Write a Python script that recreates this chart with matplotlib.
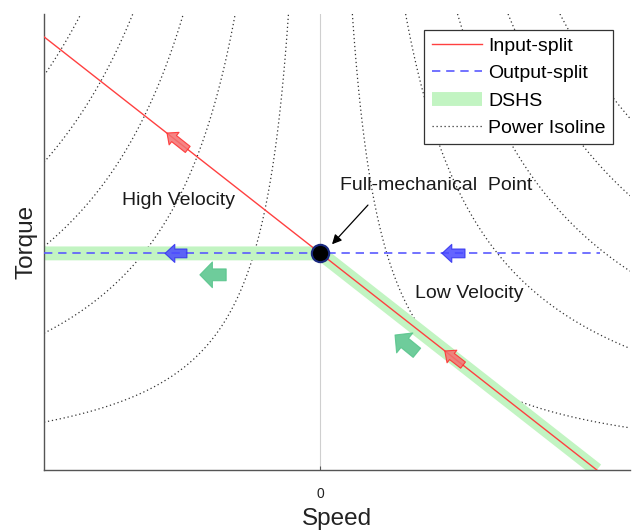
import numpy as np
import matplotlib
matplotlib.use('Agg')
import matplotlib.pyplot as plt
from matplotlib.lines import Line2D
from matplotlib.patches import FancyArrowPatch

plt.rcParams['font.family'] = ['Liberation Sans', 'DejaVu Sans']

###############################
# Data

# input-split line: speed -> torque
input_speed = [-1.0, 1.0]
input_torque = [0.95, 0.0]

# output-split line (constant torque)
output_speed = [-1.0, 1.01]
output_torque = [0.475, 0.475]

# DSHS path: horizontal on the left, then follows input-split
dshs_speed = [-1.0, 0.0, 1.0]
dshs_torque = [0.475, 0.475, 0.0]

# full-mechanical point
fm_speed = 0.0
fm_torque = 0.475

# power isoline levels, |speed| * (torque - torque_origin)
power_levels = [0.117, 0.312, 0.502, 0.687, 0.877]
torque_origin = -0.012

# direction arrows: (tail, head) in data coords
red_arrows = [((-0.48, 0.703), (-0.555, 0.739)),
              ((0.516, 0.230), (0.450, 0.261))]
blue_arrows = [((-0.483, 0.475), (-0.562, 0.475)),
               ((0.523, 0.475), (0.440, 0.475))]
green_arrows = [((-0.341, 0.428), (-0.436, 0.428)),
                ((0.349, 0.257), (0.270, 0.296))]

###############################

fig = plt.figure(figsize=(6.33, 5.32), dpi=100)
ax = fig.add_axes([44 / 633, 62 / 532, 586 / 633, 456 / 532])

ax.set_xlim(-1.0, 1.12)
ax.set_ylim(0.0, 1.0)

# isolines through contour of |w| * T
W, T = np.meshgrid(np.linspace(-1.0, 1.12, 700), np.linspace(0.0, 1.0, 500))
cs = ax.contour(W, T, np.abs(W) * (T - torque_origin), levels=power_levels,
                colors='#333333', linewidths=0.9, zorder=1)
cs.set_linestyle((0, (1, 2.2)))

# zero speed line
ax.axvline(0, color='#cfcfcf', lw=0.8, zorder=0)

ax.plot(dshs_speed, dshs_torque, color='#c2f4c2', lw=10, solid_capstyle='butt',
        solid_joinstyle='miter', zorder=2, label='DSHS')
ax.plot(output_speed, output_torque, color='#5a5aff', lw=1.2, ls=(0, (5, 3.5)),
        zorder=3, label='Output-split')
ax.plot(input_speed, input_torque, color='#ff4040', lw=1.0, zorder=4, label='Input-split')

ax.plot([fm_speed], [fm_torque], 'o', color='black', ms=12.5, mec='#1a2a80', mew=1.5, zorder=6)


def add_arrows(arrows, face, edge, tail_w, head_w, head_l):
    for tail, head in arrows:
        p = FancyArrowPatch(tail, head, shrinkA=0, shrinkB=0, mutation_scale=1,
                            arrowstyle=f'simple,head_length={head_l},head_width={head_w},tail_width={tail_w}',
                            facecolor=face, edgecolor=edge, lw=0.8, alpha=0.85, zorder=5)
        ax.add_patch(p)


add_arrows(red_arrows, '#f47070', '#ff2a2a', 5.6, 11.5, 6.5)
add_arrows(blue_arrows, '#4a4aff', '#3030ee', 6.3, 13.0, 7.0)
add_arrows(green_arrows, '#55c48a', '#55c48a', 8.5, 18.5, 9.0)

# texts
txt = dict(fontsize=14, color='#1a1a1a', ha='center', va='center')
ax.text(-0.515, 0.590, 'High Velocity', **txt)
ax.text(0.537, 0.388, 'Low Velocity', **txt)
ax.text(0.418, 0.625, 'Full-mechanical  Point', **txt)
ax.annotate('', xy=(0.042, 0.495), xytext=(0.172, 0.581),
            arrowprops=dict(arrowstyle='-|>', color='black', lw=0.9, mutation_scale=14,
                            shrinkA=0, shrinkB=0))

# axes style
for s in ['top', 'right']:
    ax.spines[s].set_visible(False)
for s in ['left', 'bottom']:
    ax.spines[s].set_color('#555555')
    ax.spines[s].set_linewidth(1.0)
ax.set_xticks([0])
ax.set_xticklabels(['0'])
ax.set_yticks([])
ax.tick_params(axis='x', direction='in', length=3, color='#555555', labelsize=10,
               labelcolor='#222222', pad=12)
ax.set_xlabel('Speed', fontsize=17.5, color='#222222', labelpad=5)
ax.set_ylabel('Torque', fontsize=17.5, color='#222222', labelpad=5)

handles = [Line2D([], [], color='#ff4040', lw=1.0),
           Line2D([], [], color='#5a5aff', lw=1.2, ls=(0, (5, 3.5))),
           Line2D([], [], color='#c2f4c2', lw=10, solid_capstyle='butt'),
           Line2D([], [], color='#333333', lw=0.9, ls=(0, (1, 2.2)))]
labels = ['Input-split', 'Output-split', 'DSHS', 'Power Isoline']
leg = ax.legend(handles, labels, loc='upper right', bbox_to_anchor=(0.971, 0.965),
                borderaxespad=0, fontsize=14, fancybox=False, framealpha=1,
                edgecolor='#333333', handlelength=2.6, handletextpad=0.3,
                labelspacing=0.5, borderpad=0.38)
leg.get_frame().set_linewidth(0.9)
leg.set_zorder(10)

fig.savefig('out.png', dpi=100)
